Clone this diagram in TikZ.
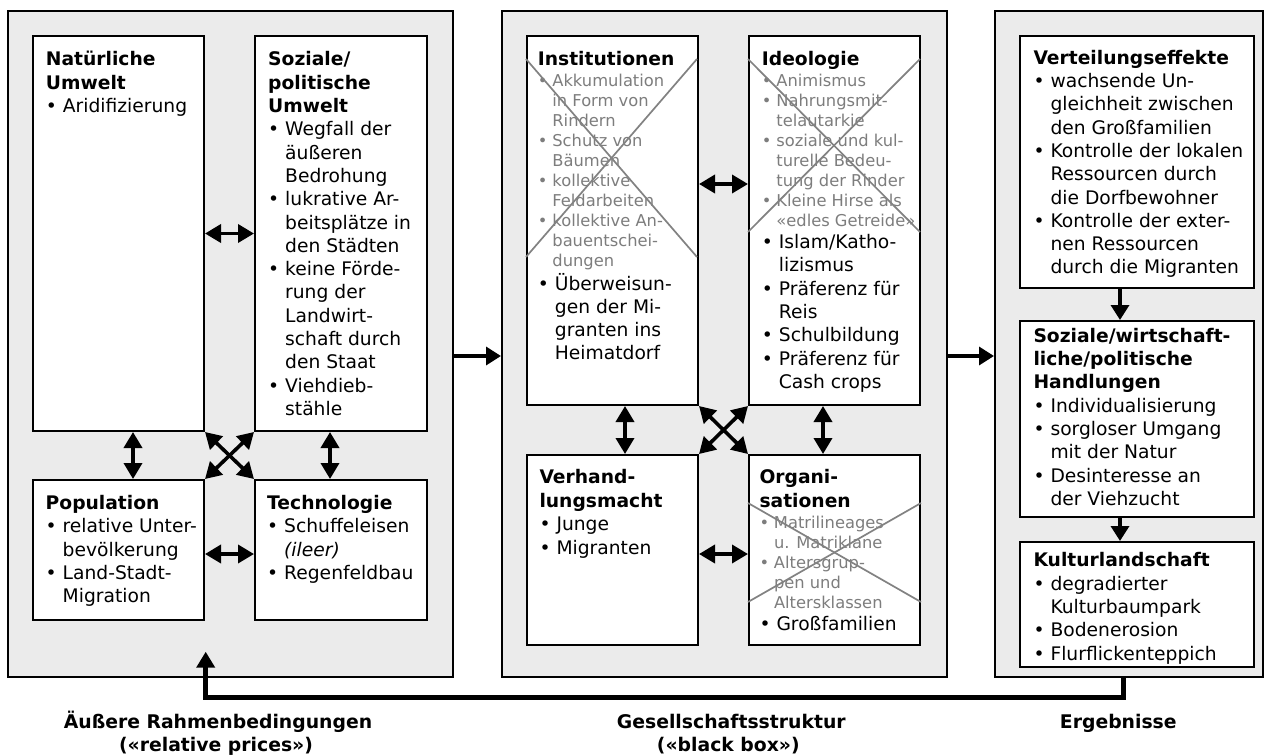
\documentclass[tikz,border=0pt]{standalone}
\usepackage{fontspec}
\setmainfont{DejaVu Sans}
\usetikzlibrary{arrows.meta}
\definecolor{panelgray}{RGB}{235,235,235}
\definecolor{txtgray}{RGB}{125,125,125}
\definecolor{crossgray}{RGB}{130,130,130}
\newcommand\bu{\makebox[17pt][l]{•}}
\newcommand\ind{\hspace*{17pt}}
\newcommand\gbu{\makebox[14.5pt][l]{•}}
\newcommand\gind{\hspace*{14.5pt}}
\tikzset{
 panel/.style={draw, line width=2pt, fill=panelgray, anchor=north west, inner sep=0pt},
 box/.style={draw, line width=2pt, fill=white, anchor=north west, inner sep=0pt},
 txt/.style={anchor=north west, inner sep=0pt, align=left, font=\fontsize{18.7}{23.3}\selectfont},
 gtxt/.style={anchor=north west, inner sep=0pt, align=left, text=txtgray, font=\fontsize{16.3}{20}\selectfont},
 lbl/.style={anchor=base, inner sep=0pt, font=\fontsize{18.8}{23.3}\selectfont\bfseries},
 dbl/.style={line width=3.6pt, {Triangle[length=16pt,width=18pt]}-{Triangle[length=16pt,width=18pt]}},
 arr/.style={line width=3.4pt, -{Triangle[length=15pt,width=18pt]}},
 fb/.style={line width=5pt, -{Triangle[length=16pt,width=18pt]}},
 cross/.style={draw=crossgray, line width=1.7pt},
}
\begin{document}
\begin{tikzpicture}[x=1pt,y=-1pt]
\useasboundingbox (0,0) rectangle (1264,755);
% panels
\node[panel, minimum width=445pt, minimum height=666pt] (lp) at (7,10) {};
\node[panel, minimum width=445pt, minimum height=666pt] (mp) at (501,10) {};
\node[panel, minimum width=268pt, minimum height=666pt] (rp) at (994,10) {};
% left boxes
\node[box, minimum width=171pt, minimum height=395pt] (nat) at (32,35) {};
\node[box, minimum width=172pt, minimum height=395pt] (soz) at (254,35) {};
\node[box, minimum width=171pt, minimum height=140pt] (pop) at (32,479) {};
\node[box, minimum width=172pt, minimum height=140pt] (tech) at (254,479) {};
% middle boxes
\node[box, minimum width=171pt, minimum height=369pt] (inst) at (526,35) {};
\node[box, minimum width=171pt, minimum height=369pt] (ideo) at (748,35) {};
\node[box, minimum width=171pt, minimum height=190pt] (verh) at (526,454) {};
\node[box, minimum width=171pt, minimum height=190pt] (org) at (748,454) {};
% right boxes
\node[box, minimum width=234pt, minimum height=252pt] (vert) at (1019,35) {};
\node[box, minimum width=234pt, minimum height=196pt] (hand) at (1019,320) {};
\node[box, minimum width=234pt, minimum height=125pt] (kult) at (1019,541) {};
% texts left
\node[txt] (natT) at (45.7,49.4) {\strut\textbf{Natürliche}\\ \textbf{Umwelt}\\ \bu Aridifizierung};
\node[txt] (sozT) at (268,49.4) {\strut\textbf{Soziale/}\\ \textbf{politische}\\ \textbf{Umwelt}\\
 \bu Wegfall der\\ \ind äußeren\\ \ind Bedrohung\\ \bu lukrative Ar-\\ \ind beitsplätze in\\ \ind den Städten\\
 \bu keine Förde-\\ \ind rung der\\ \ind Landwirt-\\ \ind schaft durch\\ \ind den Staat\\ \bu Viehdieb-\\ \ind stähle};
\node[txt] (popT) at (45.5,493) {\strut\textbf{Population}\\ \bu relative Unter-\\ \ind bevölkerung\\ \bu Land-Stadt-\\ \ind Migration};
\node[txt] (techT) at (267,493) {\strut\textbf{Technologie}\\ \bu Schuffeleisen\\ \ind \textit{(ileer)}\\ \bu Regenfeldbau};
% texts middle
\node[txt] (instH) at (537.7,48.7) {\strut\textbf{Institutionen}};
\node[gtxt] (instG) at (537.7,72) {\strut\gbu Akkumulation\\ \gind in Form von\\ \gind Rindern\\ \gbu Schutz von\\ \gind Bäumen\\
 \gbu kollektive\\ \gind Feldarbeiten\\ \gbu kollektive An-\\ \gind bauentschei-\\ \gind dungen};
\node[txt, font=\fontsize{18.7}{23}\selectfont] (instB) at (537.7,273.2) {\strut\bu Überweisun-\\ \ind gen der Mi-\\ \ind granten ins\\ \ind Heimatdorf};
\node[txt] (ideoH) at (761.7,48.7) {\strut\textbf{Ideologie}};
\node[gtxt] (ideoG) at (761.7,72) {\strut\gbu Animismus\\ \gbu Nahrungsmit-\\ \gind telautarkie\\ \gbu soziale und kul-\\ \gind turelle Bedeu-\\
 \gind tung der Rinder\\ \gbu Kleine Hirse als\\ \gind «edles Getreide»};
\node[txt] (ideoB) at (761.7,232) {\strut\bu Islam/Katho-\\ \ind lizismus\\ \bu Präferenz für\\ \ind Reis\\ \bu Schulbildung\\ \bu Präferenz für\\ \ind Cash crops};
\node[txt, font=\fontsize{18.7}{23.5}\selectfont] (verhT) at (539.3,466.9) {\strut\textbf{Verhand-}\\ \textbf{lungsmacht}\\ \bu Junge\\ \bu Migranten};
\node[txt, font=\fontsize{18.7}{23.5}\selectfont] (orgH) at (759.3,466.9) {\strut\textbf{Organi-}\\ \textbf{sationen}};
\node[gtxt] (orgG) at (759.3,514.3) {\strut\gbu Matrilineages\\ \gind u. Matriklane\\ \gbu Altersgrup-\\ \gind pen und\\ \gind Altersklassen};
\node[txt] (orgB) at (759.3,614.4) {\strut\bu Großfamilien};
% texts right
\node[txt] (vertT) at (1033.3,47.7) {\strut\textbf{Verteilungseffekte}\\ \bu wachsende Un-\\ \ind gleichheit zwischen\\ \ind den Großfamilien\\
 \bu Kontrolle der lokalen\\ \ind Ressourcen durch\\ \ind die Dorfbewohner\\ \bu Kontrolle der exter-\\ \ind nen Ressourcen\\ \ind durch die Migranten};
\node[txt] (handT) at (1033.3,325.7) {\strut\textbf{Soziale/wirtschaft-}\\ \textbf{liche/politische}\\ \textbf{Handlungen}\\ \bu Individualisierung\\
 \bu sorgloser Umgang\\ \ind mit der Natur\\ \bu Desinteresse an\\ \ind der Viehzucht};
\node[txt] (kultT) at (1033.3,550.4) {\strut\textbf{Kulturlandschaft}\\ \bu degradierter\\ \ind Kulturbaumpark\\ \bu Bodenerosion\\ \bu Flurflickenteppich};
% crosses
\draw[cross] (526,59) -- (697,257);
\draw[cross] (697,59) -- (526,257);
\draw[cross] (748,59) -- (920,232);
\draw[cross] (920,59) -- (748,232);
\draw[cross] (748,503) -- (921,602);
\draw[cross] (921,503) -- (748,602);
% connectors left
\draw[dbl] (nat.east) -- (soz.west);
\draw[dbl] ([yshift=-4pt]pop.east) -- ([yshift=-4pt]tech.west);
\draw[dbl] ([xshift=14.5pt]nat.south) -- ([xshift=14.5pt]pop.north);
\draw[dbl] ([xshift=-11pt]soz.south) -- ([xshift=-11pt]tech.north);
\draw[dbl] (nat.south east) -- (tech.north west);
\draw[dbl] (soz.south west) -- (pop.north east);
% connectors middle
\draw[dbl] ([yshift=36.5pt]inst.east) -- ([yshift=36.5pt]ideo.west);
\draw[dbl] ([yshift=-4pt]verh.east) -- ([yshift=-4pt]org.west);
\draw[dbl] ([xshift=12.5pt]inst.south) -- ([xshift=12.5pt]verh.north);
\draw[dbl] ([xshift=-11.5pt]ideo.south) -- ([xshift=-11.5pt]org.north);
\draw[dbl] (inst.south east) -- (org.north west);
\draw[dbl] (ideo.south west) -- (verh.north east);
% connectors right
\draw[arr] ([xshift=-17pt]vert.south) -- ([xshift=-17pt]hand.north);
\draw[arr] ([xshift=-17pt]hand.south) -- ([xshift=-17pt]kult.north);
% between panels
\draw[arr] ([yshift=-12pt]lp.east) -- ([yshift=-12pt]mp.west);
\draw[arr] ([yshift=-12pt]mp.east) -- ([yshift=-12pt]rp.west);
% feedback
\coordinate (fbcorner) at (205.7,697.7);
\coordinate (fbend) at (205.7,651.7);
\draw[fb] ([xshift=-6pt]rp.south) |- (fbcorner) -- (fbend);
% labels
\node[lbl] (l1) at (218,728.3) {Äußere Rahmenbedingungen};
\node[lbl] (l1b) at (216,751.7) {(«relative prices»)};
\node[lbl] (l2) at (731.3,728.3) {Gesellschaftsstruktur};
\node[lbl] (l2b) at (728.3,751.7) {(«black box»)};
\node[lbl] (l3) at (1118.3,728.3) {Ergebnisse};
\end{tikzpicture}
\end{document}
